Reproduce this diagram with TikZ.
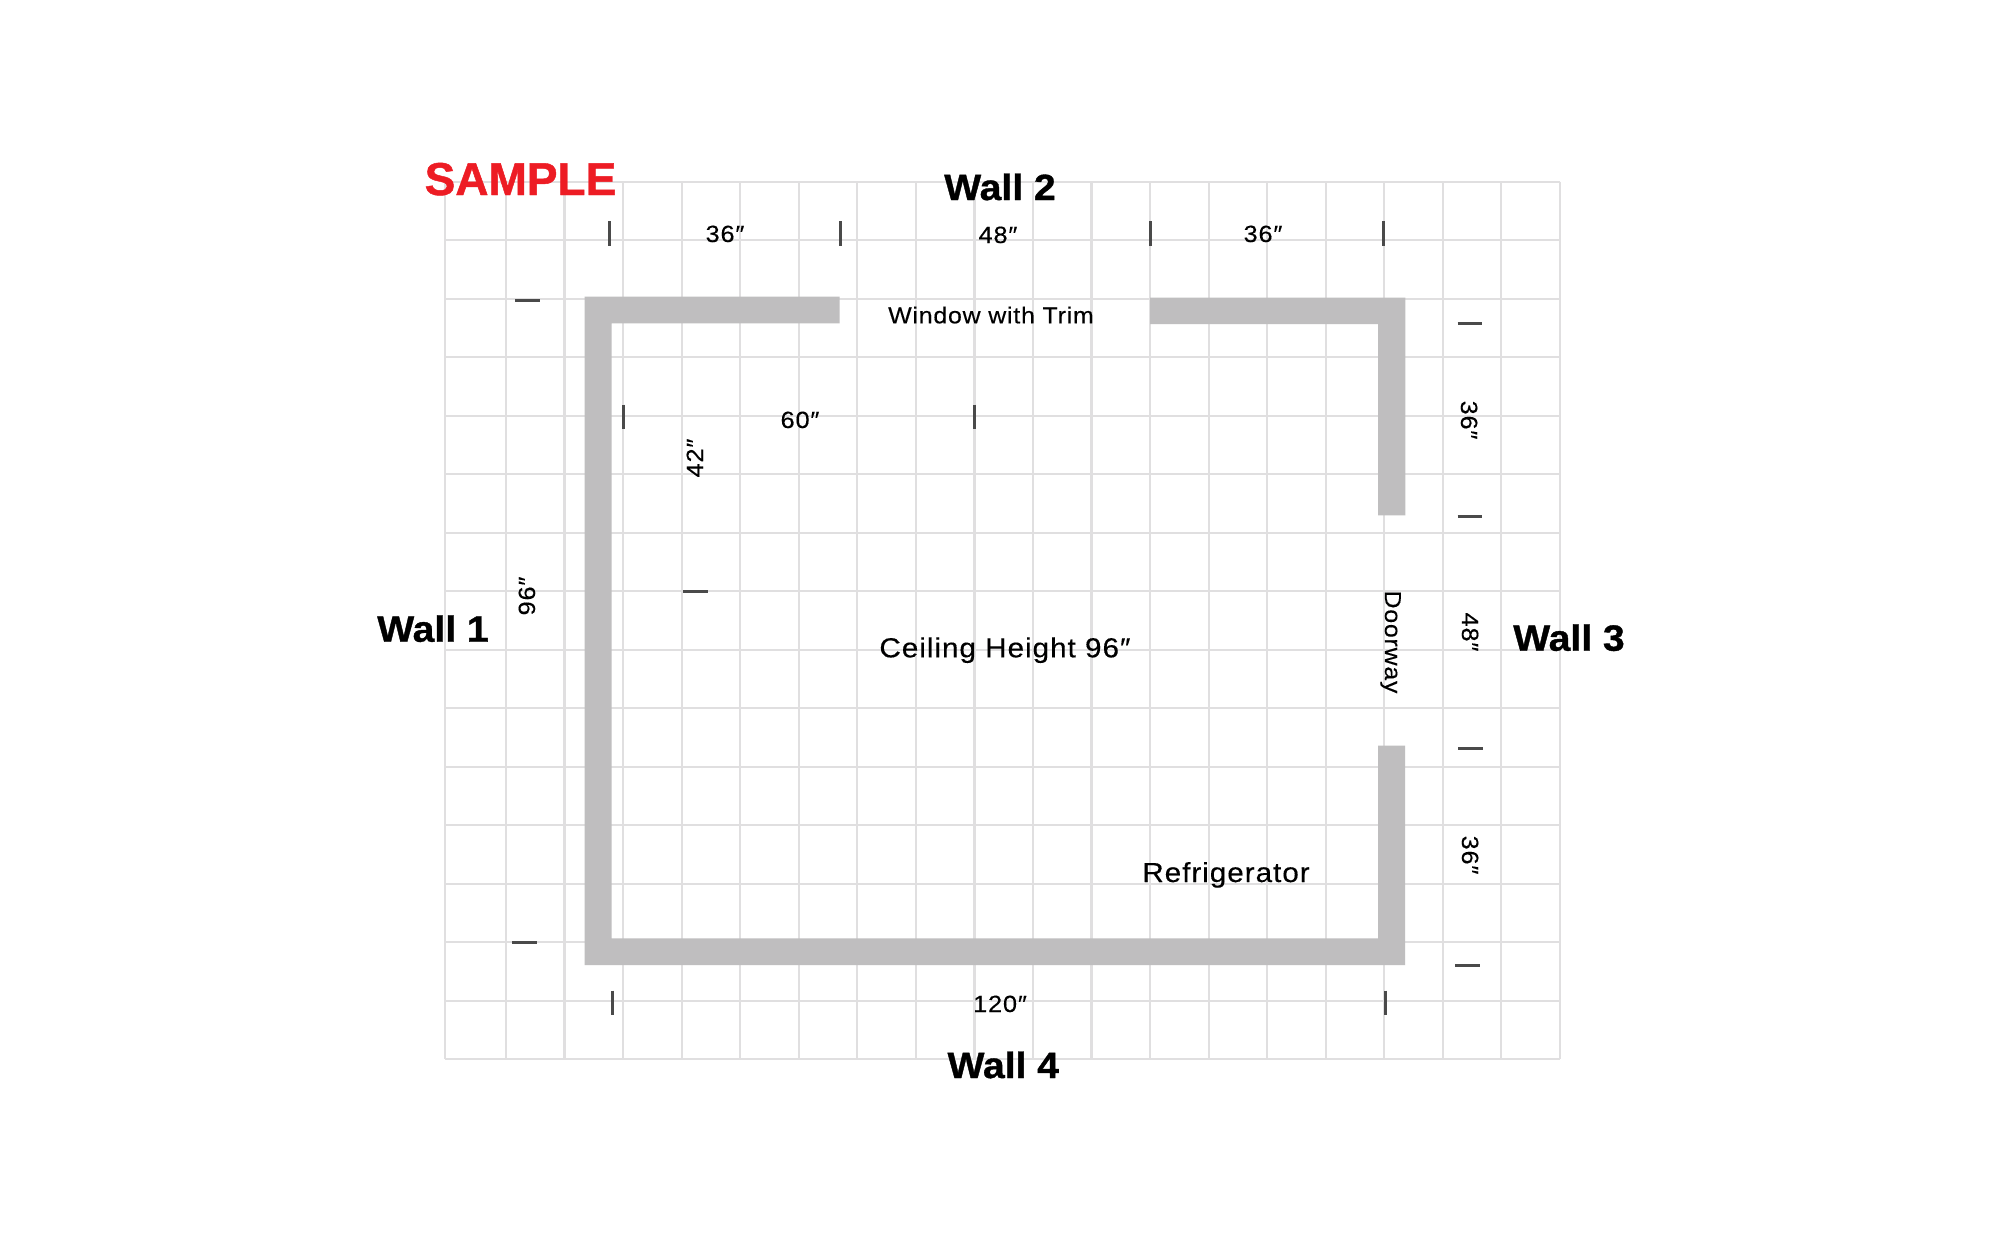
\documentclass[tikz,border=0pt]{standalone}
\usepackage{fontspec}
\setmainfont{Liberation Sans}
\newfontfamily\labfont[LetterSpace=3.5,FakeStretch=1.08,FakeBold=0.3]{Liberation Sans}
\newfontfamily\headfont[FakeBold=1.0,FakeStretch=1.07]{Liberation Sans Bold}
\newfontfamily\samplefont[FakeBold=1.0]{Liberation Sans Bold}
\definecolor{gridc}{HTML}{E0DFE0}
\definecolor{wallc}{HTML}{BFBEBF}
\definecolor{tickc}{HTML}{4A4A4A}
\definecolor{samplec}{HTML}{ED1C24}
\tikzset{
  gridline/.style={draw=gridc,line width=2.2pt},
  wallshape/.style={fill=wallc,draw=none},
  tickmark/.style={draw=tickc,line width=3pt},
  dimlabel/.style={inner sep=0pt,anchor=base,font=\labfont\fontsize{23.5}{24}\selectfont},
  notelabel/.style={inner sep=0pt,anchor=base,font=\labfont\fontsize{27.5}{28}\selectfont},
  smalllabel/.style={inner sep=0pt,anchor=base,font=\labfont\fontsize{23}{23}\selectfont},
  walllabel/.style={inner sep=0pt,anchor=base,font=\headfont\fontsize{36.5}{37}\selectfont},
}
\begin{document}
\begin{tikzpicture}[x=1pt,y=-1pt]
\useasboundingbox (0,0) rectangle (2000,1234);
\fill[white] (0,0) rectangle (2000,1234);
% grid
\foreach \k in {0,...,15}{
  \pgfmathsetmacro\yy{181.7+58.51*\k}
  \draw[gridline] (445,\yy) -- (1560,\yy);
}
\draw[gridline] (445,181.7) -- (445,1059.3);
\foreach \i in {0,...,18}{
  \pgfmathsetmacro\xx{506+58.55*\i}
  \draw[gridline] (\xx,181.7) -- (\xx,1059.3);
}
% walls
\fill[wallshape] (584.5,296.7) -- (839.7,296.7) -- (839.7,323.3) -- (611.7,323.3) -- (611.7,938.3) -- (1378,938.3) -- (1378,745.7) -- (1405,745.7) -- (1405,965) -- (584.5,965) -- cycle;
\fill[wallshape] (1150,297.7) -- (1405.4,297.7) -- (1405.4,515.3) -- (1378,515.3) -- (1378,324) -- (1150,324) -- cycle;
% vertical ticks
\draw[tickmark] (609.3,221) -- (609.3,245.7);
\draw[tickmark] (840.7,221) -- (840.7,245.7);
\draw[tickmark] (1150.3,221) -- (1150.3,245.7);
\draw[tickmark] (1383.6,221) -- (1383.6,245.7);
\draw[tickmark] (623.3,404.7) -- (623.3,429.3);
\draw[tickmark] (974,404.7) -- (974,429.3);
\draw[tickmark] (612,990.7) -- (612,1015.3);
\draw[tickmark] (1385.7,990.7) -- (1385.7,1015.3);
% horizontal ticks
\draw[tickmark] (515,300) -- (539.7,300);
\draw[tickmark] (512.4,942) -- (537.4,942);
\draw[tickmark] (683,591.3) -- (707.7,591.3);
\draw[tickmark] (1457.5,323) -- (1482,323);
\draw[tickmark] (1457.5,516) -- (1482,516);
\draw[tickmark] (1458,748.5) -- (1483,748.5);
\draw[tickmark] (1455,965.3) -- (1480,965.3);
% headings
\node[inner sep=0pt,anchor=base,text=samplec,font=\samplefont\fontsize{46}{46}\selectfont] (sample) at (520.5,195) {SAMPLE};
\node[walllabel] (wall2) at (1000,200) {Wall 2};
\node[walllabel] (wall4) at (1003.3,1078) {Wall 4};
\node[walllabel] (wall1) at (433,641.7) {Wall 1};
\node[walllabel] (wall3) at (1569,650.7) {Wall 3};
% dimensions
\node[dimlabel] (d36a) at (725,242) {36″};
\node[dimlabel] (d48) at (998,243) {48″};
\node[dimlabel] (d36b) at (1263,242) {36″};
\node[dimlabel] (d60) at (800,428) {60″};
\node[dimlabel] (d120) at (1000,1012) {120″};
\node[dimlabel,rotate=90] (d42) at (703,458) {42″};
\node[dimlabel,rotate=90] (d96) at (535,596) {96″};
\node[dimlabel,rotate=-90] (d36c) at (1461,420) {36″};
\node[dimlabel,rotate=-90] (d48b) at (1462,632) {48″};
\node[dimlabel,rotate=-90] (d36d) at (1462,855) {36″};
% notes
\node[smalllabel] (win) at (991,323.3) {Window with Trim};
\node[notelabel] (ceil) at (1005,657.3) {Ceiling Height 96″};
\node[notelabel] (fridge) at (1226,882) {Refrigerator};
\node[smalllabel,rotate=-90] (door) at (1385,642) {Doorway};
\end{tikzpicture}
\end{document}
